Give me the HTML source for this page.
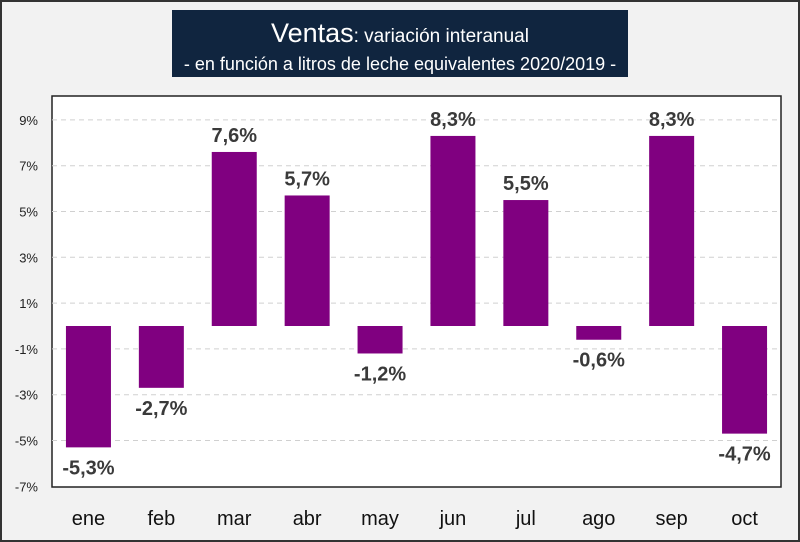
<!DOCTYPE html>
<html><head><meta charset="utf-8"><style>
body{margin:0;width:800px;height:542px;background:#f2f2f2;font-family:"Liberation Sans",sans-serif;overflow:hidden}
#frame{position:absolute;left:0;top:0;width:796px;height:538px;border:2px solid #333;background:#f2f2f2}
#title{position:absolute;left:172px;top:10px;width:456px;height:67px;background:#10253f;color:#fff;text-align:center}
#t1{font-size:27px;margin-top:8px;line-height:30px}
#t1 small{font-size:19px}
#t2{font-size:18px;line-height:24px}
</style></head><body>
<div id="frame"></div>
<div id="title">
<div id="t1">Ventas<small>: variación interanual</small></div>
<div id="t2">- en función a litros de leche equivalentes 2020/2019 -</div>
</div>
<svg id="chart" width="800" height="542" style="position:absolute;left:0;top:0"></svg>
<script>
const categories=["ene","feb","mar","abr","may","jun","jul","ago","sep","oct"];
const values=[-5.3,-2.7,7.6,5.7,-1.2,8.3,5.5,-0.6,8.3,-4.7];
const labels=["-5,3%","-2,7%","7,6%","5,7%","-1,2%","8,3%","5,5%","-0,6%","8,3%","-4,7%"];
const ticks=[9,7,5,3,1,-1,-3,-5,-7];
const tickLabels=["9%","7%","5%","3%","1%","-1%","-3%","-5%","-7%"];
const NS="http://www.w3.org/2000/svg",svg=document.getElementById('chart');
const PL=52,PR=781,PT=96,PB=487;
const y=v=>326-v*22.9;
const band=(PR-PL)/categories.length;
const x=i=>PL+band*(i+0.5);
function mk(t,a,txt){const e=document.createElementNS(NS,t);for(const k in a)e.setAttribute(k,a[k]);if(txt!=null)e.textContent=txt;svg.appendChild(e);return e;}
const bg=mk('rect',{x:PL,y:PT,width:PR-PL,height:PB-PT,fill:'#fff',stroke:'#222','stroke-width':1.5});


ticks.forEach((t,i)=>{
 if(t>-7){const g=mk('line',{x1:PL,x2:PR,y1:y(t),y2:y(t),stroke:'#d0d0d0','stroke-dasharray':'5,4'});
 
 }
 const l=mk('text',{x:38,y:y(t)+5,'text-anchor':'end','font-size':13,fill:'#222'},tickLabels[i]);
 
 
});
values.forEach((v,i)=>{
 const w=45,top=Math.min(y(v),y(0)),h=Math.abs(y(v)-y(0));
 const b=mk('rect',{x:x(i)-w/2,y:top,width:w,height:h,fill:'#800080'});
 
 
 const ly=v>=0?y(v)-10:y(v)+27;
 const t=mk('text',{x:x(i),y:ly,'text-anchor':'middle','font-size':20,'font-weight':'bold',fill:'#3a3a3a'},labels[i]);
 
 
 const c=mk('text',{x:x(i),y:525,'text-anchor':'middle','font-size':20,fill:'#111'},categories[i]);
 
 
});
</script>
</body></html>
